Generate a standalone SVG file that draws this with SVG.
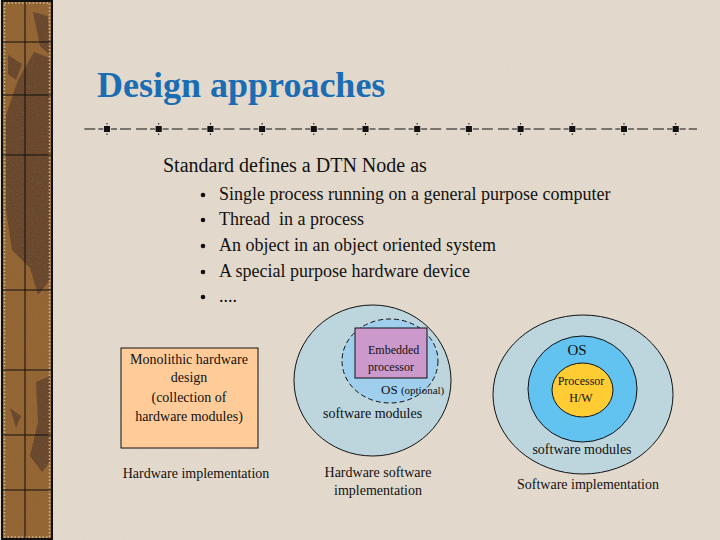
<svg xmlns="http://www.w3.org/2000/svg" width="720" height="540" viewBox="0 0 720 540">
<style>
.t{font-family:"Liberation Serif","Times New Roman",serif;fill:#111}
.ttl{font-family:"Liberation Serif","Times New Roman",serif;font-weight:bold;font-size:36px;fill:#1a6db3}
.ln{stroke:#111;stroke-width:1}
.blob{fill:#5e3b22}
</style>
<defs>
<filter id="grain" x="0" y="0" width="100%" height="100%">
<feTurbulence type="fractalNoise" baseFrequency="0.9" numOctaves="2" seed="3" result="n"/>
<feColorMatrix type="matrix" values="0 0 0 0 0.3  0 0 0 0 0.2  0 0 0 0 0.1  0 0 0 0.45 0" in="n"/>
<feComposite in2="SourceGraphic" operator="in"/>
</filter>
<filter id="paper" x="0" y="0" width="100%" height="100%">
<feTurbulence type="fractalNoise" baseFrequency="0.7" numOctaves="2" seed="7" result="n"/>
<feColorMatrix type="matrix" values="0 0 0 0 0.55  0 0 0 0 0.5  0 0 0 0 0.42  0 0 0 0.18 0" in="n"/>
<feComposite in2="SourceGraphic" operator="in"/>
</filter>
<g id="sq"><rect x="-3" y="-3" width="6" height="6"/><rect x="-0.5" y="-6" width="1" height="1.5"/><rect x="-0.5" y="4.5" width="1" height="1.5"/></g>
</defs>
<rect width="720" height="540" fill="#e5dccf"/>
<rect width="720" height="540" fill="#e5dccf" filter="url(#paper)"/>
<g id="sidebar">
<rect x="2" y="1" width="50" height="538" fill="#935f2a"/>
<path class="blob" d="M6 115 L18 80 L34 52 L50 58 L50 280 L38 295 L30 268 L12 250 L6 210 Z"/>
<path class="blob" d="M33 12 L48 16 L50 55 L40 46 Z"/>
<path class="blob" d="M8 55 L22 64 L16 80 L8 74 Z"/>
<path class="blob" d="M36 382 L50 376 L50 462 L42 472 L30 456 L38 422 Z"/>
<path class="blob" d="M10 408 L21 416 L16 428 Z"/>
<rect x="2" y="1" width="50" height="538" fill="#935f2a" filter="url(#grain)"/>
<rect x="2" y="1" width="50" height="538" fill="none" stroke="#111" stroke-width="2"/>
<rect x="4.5" y="3" width="45" height="534" fill="none" stroke="#c9b98a" stroke-width="1.5" stroke-dasharray="1.5 2"/>
<line x1="25" y1="2" x2="25" y2="538" class="ln"/>
<g class="ln">
<line x1="3" y1="42" x2="51" y2="42"/>
<line x1="3" y1="95" x2="51" y2="95"/>
<line x1="3" y1="155" x2="51" y2="155"/>
<line x1="3" y1="290" x2="51" y2="290"/>
<line x1="3" y1="370" x2="51" y2="370"/>
<line x1="3" y1="435" x2="51" y2="435"/>
<line x1="3" y1="490" x2="51" y2="490"/>
</g>
</g>
<g id="title">
<text x="97" y="97" class="ttl">Design approaches</text>
</g>
<g id="divider">
<line x1="84" y1="129" x2="697" y2="129" stroke="#111" stroke-width="1" stroke-dasharray="6 1 6 3 11 5 11 3 5 0.7" stroke-dashoffset="31.7"/>
<g fill="#111">
<use href="#sq" x="107" y="129"/><use href="#sq" x="158.7" y="129"/><use href="#sq" x="210.4" y="129"/><use href="#sq" x="262.1" y="129"/><use href="#sq" x="313.8" y="129"/><use href="#sq" x="365.5" y="129"/><use href="#sq" x="417.2" y="129"/><use href="#sq" x="468.9" y="129"/><use href="#sq" x="520.6" y="129"/><use href="#sq" x="572.3" y="129"/><use href="#sq" x="624" y="129"/><use href="#sq" x="675.7" y="129"/>
</g>
</g>
<g id="definition">
<text x="163" y="172" class="t" font-size="20">Standard defines a DTN Node as</text>
<g fill="#111">
<circle cx="203" cy="195" r="2.3"/><circle cx="203" cy="220" r="2.3"/><circle cx="203" cy="246" r="2.3"/><circle cx="203" cy="272" r="2.3"/><circle cx="203" cy="297" r="2.3"/>
</g>
<g font-size="18" class="t">
<text x="219" y="200">Single process running on a general purpose computer</text>
<text x="219" y="225">Thread&#160; in a process</text>
<text x="219" y="251">An object in an object oriented system</text>
<text x="219" y="277">A special purpose hardware device</text>
<text x="219" y="302">....</text>
</g>
</g>
<g id="hardware">
<rect x="121" y="348" width="137" height="100" fill="#ffcc99" stroke="#111" stroke-width="1"/>
<g class="t" font-size="14" text-anchor="middle">
<text x="189" y="364">Monolithic hardware</text>
<text x="189" y="382">design</text>
<text x="189" y="402">(collection of</text>
<text x="189" y="421">hardware modules)</text>
</g>
<text x="196" y="478" class="t" font-size="14" text-anchor="middle">Hardware implementation</text>
</g>
<g id="hwsw">
<ellipse cx="372.5" cy="380.5" rx="78.5" ry="75.5" fill="#bdd5dd" stroke="#111" stroke-width="1"/>
<ellipse cx="390" cy="361" rx="48" ry="42" fill="#9fcfec" stroke="#111" stroke-width="1" stroke-dasharray="5 3"/>
<rect x="355" y="328" width="72" height="50" fill="#cc99cc" stroke="#111" stroke-width="1"/>
<g class="t" font-size="12">
<text x="368" y="354">Embedded</text>
<text x="368" y="371">processor</text>
</g>
<text x="381" y="394" class="t" font-size="13">OS <tspan font-size="11">(optional)</tspan></text>
<text x="323" y="418" class="t" font-size="14">software modules</text>
<g class="t" font-size="14" text-anchor="middle">
<text x="378" y="477">Hardware software</text>
<text x="378" y="495">implementation</text>
</g>
</g>
<g id="software">
<ellipse cx="583" cy="394.5" rx="90" ry="79.5" fill="#bdd5dd" stroke="#111" stroke-width="1"/>
<ellipse cx="582.5" cy="389" rx="54.5" ry="53" fill="#62c3f0" stroke="#111" stroke-width="1"/>
<ellipse cx="582.5" cy="390" rx="30.5" ry="27" fill="#ffcc33" stroke="#111" stroke-width="1"/>
<g class="t" text-anchor="middle">
<text x="577" y="355" font-size="15">OS</text>
<text x="581" y="385" font-size="12">Processor</text>
<text x="581" y="402" font-size="12">H/W</text>
<text x="582" y="454" font-size="14">software modules</text>
<text x="588" y="489" font-size="14">Software implementation</text>
</g>
</g>
</svg>
